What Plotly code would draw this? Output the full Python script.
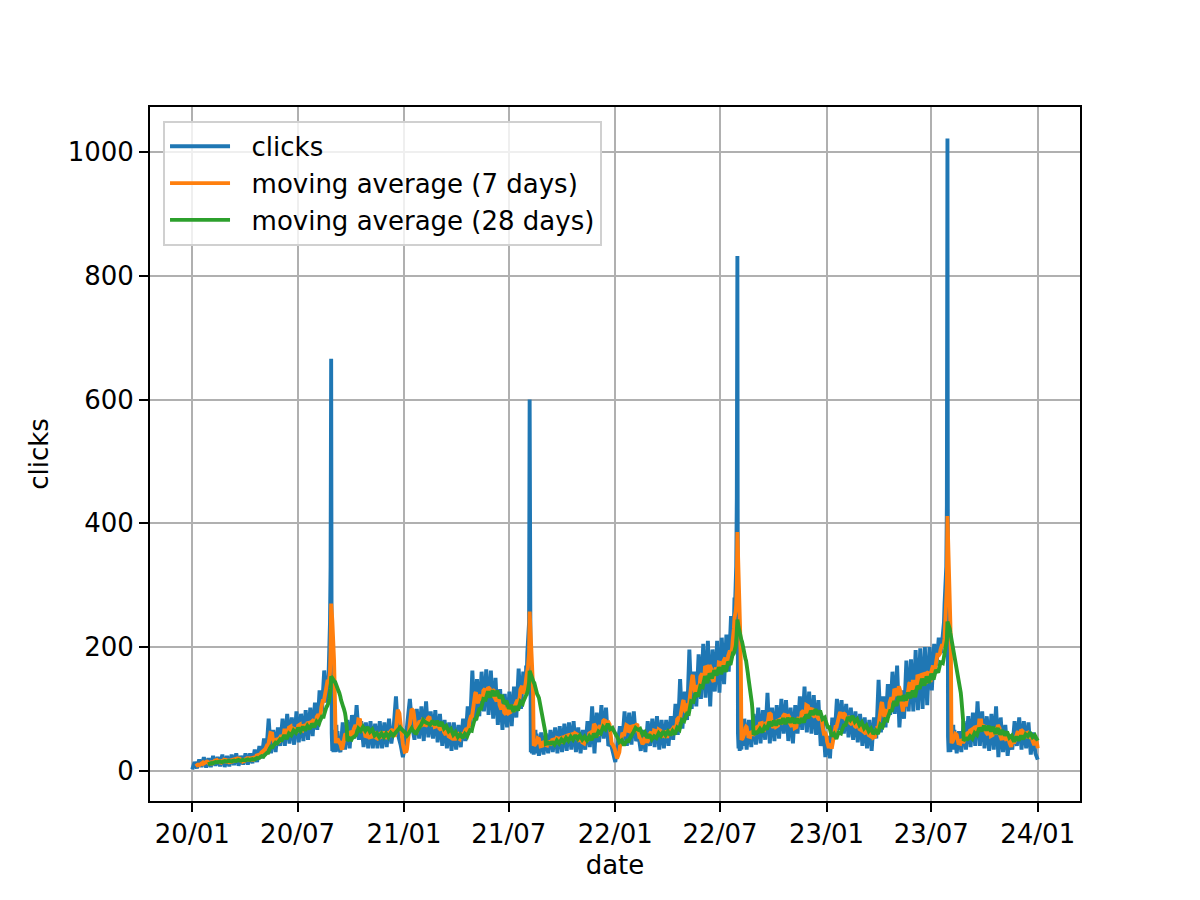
import numpy as np
import pandas as pd
import plotly.graph_objects as go

# ---------------- data ----------------
start_date = "2020-01-01"

# segments: (offset in days from start_date, step in days, values)
clicks_2020a = [
    2, 14, 4, 18, 6, 22, 5, 20,
    6, 24, 8, 22, 7, 26, 6, 24,
    7, 26, 9, 28, 8, 24, 10, 28,
    10, 28, 12, 34, 14, 40, 20, 52,
    30, 84, 28, 66, 30, 70, 40, 84,
    40, 92, 44, 86, 42, 96, 46, 92,
    48, 98, 50, 102, 56, 110, 66, 130,
    96, 162, 110,
]
spike_2020 = [120, 150, 135, 170, 200, 240, 330, 666, 60, 32,
              62, 30, 66, 34, 58, 30, 74, 36, 64, 40]
clicks_2020b = [
    30, 78, 34, 82, 36, 90, 52, 106,
    50, 80, 38, 78, 36, 80, 36, 76,
    36, 80, 36, 78, 38, 84, 44, 70,
    120, 56, 42, 22, 44, 78, 116, 72,
    50, 100, 52, 104, 48, 112, 54, 96,
    52, 98, 46, 92, 40, 82, 36, 78,
    32, 78, 34, 74, 38, 84, 48, 104,
    70, 162, 80, 148, 88, 160, 96, 164,
    90, 162, 84, 150, 74, 132, 66, 124,
    70, 128, 72, 136, 86, 165, 100, 160,
]
spike_2021 = [130, 170, 150, 190, 210, 240, 240, 600, 50, 30,
              56, 28, 60, 32, 26, 62, 30, 66, 28, 60]
clicks_2021 = [
    24, 62, 26, 60, 28, 66, 30, 70,
    28, 72, 30, 76, 32, 78, 34, 80,
    30, 70, 28, 66, 34, 80, 38, 104,
    28, 94, 46, 106, 52, 102, 40, 45,
    28, 14, 42, 72, 44, 96, 40, 94,
    42, 96, 48, 58, 32, 66, 30, 80,
    40, 84, 38, 88, 34, 82, 36, 82,
    40, 88, 50, 108, 58, 148, 68, 128,
    82, 196, 100, 160, 104, 188, 116, 205,
    118, 210, 104, 196, 128, 210, 126, 215,
    140, 220, 160, 250,
]
spike_2022 = [200, 250, 280, 270, 300, 330, 440, 832, 60, 36,
              62, 32, 58, 66, 34, 72, 40, 78, 44, 84]
clicks_2022 = [
    34, 82, 38, 92, 42, 102, 44, 98,
    50, 126, 44, 102, 48, 106, 52, 116,
    60, 114, 48, 102, 44, 106, 60, 120,
    66, 136, 62, 128, 60, 122, 58, 114,
    40, 80, 22, 56, 20, 86, 56, 116,
    66, 114, 60, 108, 54, 102, 50, 96,
    46, 92, 40, 86, 36, 82, 32, 86,
    52, 147, 62, 120, 70, 140, 90, 160,
    92, 170, 70, 130, 84, 178, 96, 180,
    96, 195, 98, 198, 100, 200, 106, 200,
    130, 205, 170, 215, 190,
]
spike_2023 = [230, 240, 270, 300, 290, 330, 430, 1022, 55, 30,
              42, 56, 30, 62, 36, 70, 34, 74, 40, 66]
clicks_2023 = [
    28, 64, 30, 80, 34, 88, 38, 94,
    40, 112, 40, 96, 36, 88, 32, 92,
    34, 104, 22, 86, 30, 74, 24, 58,
    34, 80, 40, 86, 34, 80, 36, 78,
    26, 62, 28, 18,
]

seg_offsets = [0, 233, 256, 576, 599, 935, 958, 1298, 1321]
seg_steps = [4, 1, 4, 1, 4, 1, 4, 1, 4]
seg_values = [clicks_2020a, spike_2020, clicks_2020b, spike_2021, clicks_2021,
              spike_2022, clicks_2022, spike_2023, clicks_2023]

series_names = ["clicks", "moving average (7 days)", "moving average (28 days)"]
x_tick_dates = ["2020-01-01", "2020-07-01", "2021-01-01", "2021-07-01", "2022-01-01",
                "2022-07-01", "2023-01-01", "2023-07-01", "2024-01-01"]
x_tick_labels = ["20/01", "20/07", "21/01", "21/07", "22/01",
                 "22/07", "23/01", "23/07", "24/01"]
y_tick_vals = [0, 200, 400, 600, 800, 1000]

# ---------------- build series ----------------
start = pd.Timestamp(start_date)
days, vals = [], []
for off, step, v in zip(seg_offsets, seg_steps, seg_values):
    for i, val in enumerate(v):
        days.append(off + i * step)
        vals.append(val)
days = np.array(days)
vals = np.array(vals, dtype=float)
dates = start + pd.to_timedelta(days, unit="D")

# time-weighted trailing moving averages (each reading holds until the next one)
dur = np.diff(np.append(days, days[-1] + 1))
daily = pd.Series(np.repeat(vals, dur))
daily_dates = start + pd.to_timedelta(np.arange(days[0], days[-1] + 1), unit="D")
ma7 = daily.rolling(7).mean()
ma28 = daily.rolling(28).mean()

# ---------------- figure ----------------
FONT = "DejaVu Sans"
LW = 3.9
GAP = "\u00a0\u00a0"

fig = go.Figure()
fig.add_trace(go.Scatter(x=dates, y=vals, mode="lines", name=GAP + series_names[0],
                         line=dict(color="#1f77b4", width=LW)))
fig.add_trace(go.Scatter(x=daily_dates, y=ma7, mode="lines", name=GAP + series_names[1],
                         line=dict(color="#ff7f0e", width=LW)))
fig.add_trace(go.Scatter(x=daily_dates, y=ma28, mode="lines", name=GAP + series_names[2],
                         line=dict(color="#2ca02c", width=LW)))

span = days[-1] - days[0]
pad = pd.Timedelta(days=span * 0.05)
x0 = start + pd.Timedelta(days=int(days[0])) - pad
x1 = start + pd.Timedelta(days=int(days[-1])) + pad
ymin, ymax = vals.min(), vals.max()
ypad = (ymax - ymin) * 0.05

axis_common = dict(
    showline=True, linecolor="black", linewidth=2, mirror=True,
    ticks="outside", ticklen=9, tickwidth=2, tickcolor="black",
    showgrid=True, gridcolor="#b0b0b0", gridwidth=2,
    zeroline=False,
    tickfont=dict(family=FONT, size=26, color="black"),
)

fig.update_layout(
    width=1200, height=900,
    paper_bgcolor="white", plot_bgcolor="white",
    margin=dict(l=142, r=128, t=99, b=107),
    font=dict(family=FONT, size=26, color="black"),
    showlegend=True,
    legend=dict(
        x=0.014, y=0.98, xanchor="left", yanchor="top",
        bgcolor="rgba(255,255,255,0.8)", bordercolor="#d0d0d0", borderwidth=2,
        font=dict(family=FONT, size=26, color="black"),
        itemwidth=60,
    ),
    xaxis=dict(
        **axis_common,
        type="date",
        range=[x0, x1],
        tickmode="array", tickvals=x_tick_dates, ticktext=x_tick_labels,
        title=dict(text="date", font=dict(family=FONT, size=26, color="black"), standoff=8),
    ),
    yaxis=dict(
        **axis_common,
        range=[ymin - ypad, ymax + ypad],
        tickmode="array", tickvals=y_tick_vals,
        title=dict(text="clicks", font=dict(family=FONT, size=26, color="black"), standoff=12),
    ),
)

fig.write_html("out.html")
